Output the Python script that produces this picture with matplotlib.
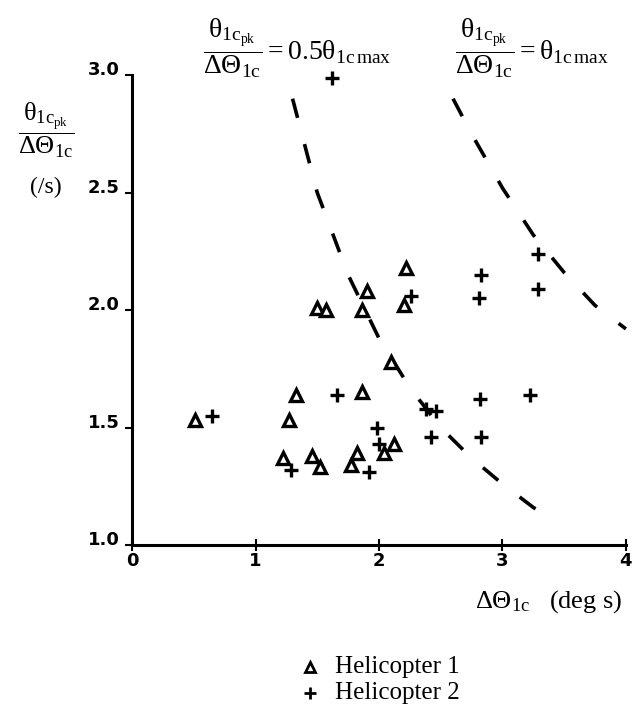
import matplotlib
matplotlib.use("Agg")
import matplotlib.pyplot as plt

plt.rcParams['mathtext.fontset'] = 'custom'
plt.rcParams['mathtext.rm'] = 'Liberation Serif'
plt.rcParams['mathtext.it'] = 'Liberation Serif:italic'
plt.rcParams['mathtext.bf'] = 'Liberation Serif:bold'
plt.rcParams['font.family'] = ['Liberation Serif', 'DejaVu Serif']

# Helicopter 1 (triangles)
h1_x = [0.51, 1.27, 1.33, 1.22, 1.46, 1.52, 1.86, 1.77, 1.82, 2.04, 2.12,
        1.50, 1.57, 1.86, 1.90, 2.22, 2.20, 2.10]
h1_y = [1.53, 1.53, 1.64, 1.37, 1.38, 1.33, 1.65, 1.34, 1.39, 1.39, 1.43,
        2.01, 2.00, 2.00, 2.08, 2.18, 2.02, 1.78]

# Helicopter 2 (pluses)
h2_x = [0.65, 1.29, 1.66, 1.98, 2.00, 1.92, 2.38, 2.46, 2.42, 2.83, 2.26,
        2.81, 2.82, 2.83, 3.29, 3.29, 3.22, 1.62]
h2_y = [1.55, 1.32, 1.64, 1.50, 1.43, 1.31, 1.58, 1.57, 1.46, 2.15, 2.06,
        2.05, 1.62, 1.46, 2.24, 2.09, 1.64, 2.99]

# Boundary curves
c05_x = [1.3, 1.5, 1.75, 2.0, 2.25, 2.5, 2.75, 3.0, 3.25, 3.4]
c05_y = [2.9, 2.5, 2.15, 1.88, 1.67, 1.5, 1.37, 1.26, 1.16, 1.11]
c10_x = [2.6, 2.75, 3.0, 3.25, 3.5, 3.75, 4.0]
c10_y = [2.9, 2.75, 2.52, 2.32, 2.16, 2.02, 1.92]

xticks = [0, 1, 2, 3, 4]
yticks = [1.0, 1.5, 2.0, 2.5, 3.0]
ytick_labels = ['1.0', '1.5', '2.0', '2.5', '3.0']

fig = plt.figure(figsize=(6.38, 7.14), dpi=100)
ax = fig.add_axes([0.207, 0.2367, 0.774, 0.658])

ax.plot(c05_x, c05_y, color='black', lw=2.6, dashes=(5.5, 7.5), clip_on=False)
ax.plot(c10_x, c10_y, color='black', lw=2.6, dashes=(5.5, 7.5), clip_on=False)

ax.plot(h1_x, h1_y, linestyle='none', marker='^', markersize=8.5,
        markerfacecolor='white', markeredgecolor='black', markeredgewidth=2.4,
        clip_on=False)
ax.plot(h2_x, h2_y, linestyle='none', marker='+', markersize=10,
        color='black', markeredgewidth=2.4, clip_on=False)

ax.set_xlim(0, 4)
ax.set_ylim(1.0, 3.0)
ax.set_xticks(xticks)
ax.set_xticklabels([str(t) for t in xticks])
ax.set_yticks(yticks)
ax.set_yticklabels(ytick_labels)
for lab in ax.get_xticklabels() + ax.get_yticklabels():
    lab.set_family('DejaVu Sans')
    lab.set_fontweight('bold')
    lab.set_fontsize(13)
for lab in ax.get_yticklabels():
    lab.set_verticalalignment('baseline')
ax.tick_params(axis='y', direction='out', length=5, width=1.5, pad=4)
ax.tick_params(axis='x', direction='inout', length=8, width=1.5, pad=1)
for s in ['top', 'right']:
    ax.spines[s].set_visible(False)
for s in ['left', 'bottom']:
    ax.spines[s].set_linewidth(2.2)

# y-axis label (fraction) and units
fig.text(0.072, 0.818,
         r'$\dfrac{\mathrm{\theta_{1c_{pk}}}}{\mathrm{\Delta\Theta_{1c}}}$',
         fontsize=19, ha='center', va='center')
fig.text(0.072, 0.738, '(/s)', fontsize=17, ha='center', va='center')

# x-axis label
fig.text(0.975, 0.158, r'$\mathrm{\Delta\Theta_{1c}}$   (deg s)', fontsize=19,
         ha='right', va='center')

# curve annotations
fig.text(0.318, 0.932,
         r'$\dfrac{\mathrm{\theta_{1c_{pk}}}}{\mathrm{\Delta\Theta_{1c}}} = 0.5\mathrm{\theta_{1c\,max}}$',
         fontsize=20, ha='left', va='center')
fig.text(0.713, 0.932,
         r'$\dfrac{\mathrm{\theta_{1c_{pk}}}}{\mathrm{\Delta\Theta_{1c}}} = \mathrm{\theta_{1c\,max}}$',
         fontsize=20, ha='left', va='center')

# legend
lx, ly1, ly2 = 0.486, 0.066, 0.029
fig.lines.append(plt.Line2D([lx], [ly1], transform=fig.transFigure,
                            marker='^', markersize=7, markerfacecolor='white',
                            markeredgecolor='black', markeredgewidth=2, linestyle='none'))
fig.lines.append(plt.Line2D([lx], [ly2], transform=fig.transFigure,
                            marker='+', markersize=9, color='black',
                            markeredgewidth=2, linestyle='none'))
fig.text(0.525, ly1, 'Helicopter 1', fontsize=18, ha='left', va='center')
fig.text(0.525, ly2, 'Helicopter 2', fontsize=18, ha='left', va='center')

fig.savefig('out.png', dpi=100)
